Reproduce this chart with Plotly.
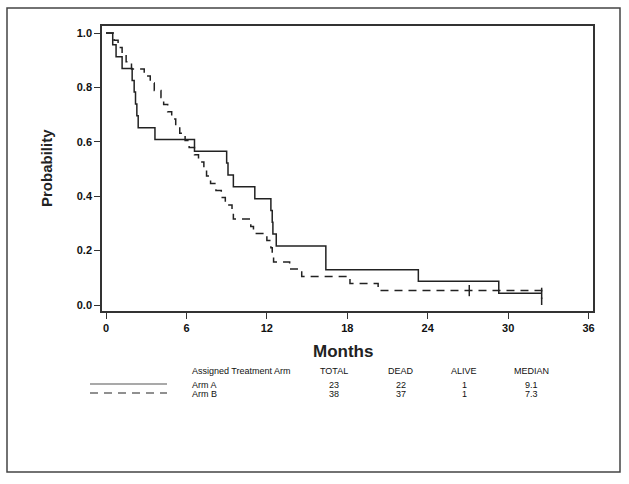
import plotly.graph_objects as go

# ---- data ----
arm_a_time = [0, 0.5, 0.75, 1.2, 1.95, 2.1, 2.2, 2.3, 2.4, 3.65, 6.6, 9.0, 9.1, 9.5,
              11.1, 12.3, 12.4, 12.45, 12.7, 16.4, 23.3, 29.3, 32.5]
arm_a_surv = [1.0, 0.957, 0.913, 0.870, 0.826, 0.783, 0.739, 0.696, 0.652, 0.609, 0.565,
              0.522, 0.478, 0.435, 0.391, 0.348, 0.304, 0.261, 0.217, 0.130, 0.087,
              0.043, 0.043]
arm_a_censor_time = [32.5]
arm_a_censor_surv = [0.043]

arm_b_time = [0, 0.6, 0.9, 1.2, 1.5, 1.9, 2.85, 3.3, 3.6, 4.1, 4.3, 4.6, 4.9, 5.2, 5.5,
              5.9, 6.2, 6.6, 6.9, 7.3, 7.5, 7.8, 8.2, 8.6, 8.9, 9.4, 9.5, 10.8, 11.0,
              12.0, 12.3, 12.4, 12.5, 13.7, 14.6, 18.2, 20.3, 32.5]
arm_b_surv = [1.0, 0.974, 0.947, 0.921, 0.895, 0.868, 0.842, 0.816, 0.789, 0.763, 0.737,
              0.711, 0.684, 0.658, 0.632, 0.605, 0.579, 0.553, 0.526, 0.500, 0.474,
              0.447, 0.421, 0.395, 0.368, 0.342, 0.316, 0.289, 0.263, 0.237, 0.211,
              0.184, 0.158, 0.132, 0.105, 0.079, 0.053, 0.0]
arm_b_censor_time = [27.1]
arm_b_censor_surv = [0.053]

x_ticks = [0, 6, 12, 18, 24, 30, 36]
y_ticks = [0.0, 0.2, 0.4, 0.6, 0.8, 1.0]

table_header = ["Assigned Treatment Arm", "TOTAL", "DEAD", "ALIVE", "MEDIAN"]
table_arms = ["Arm A", "Arm B"]
table_total = [23, 38]
table_dead = [22, 37]
table_alive = [1, 1]
table_median = ["9.1", "7.3"]

# ---- layout geometry (pixels) ----
W, H = 629, 484
L, R, T, B = 102, 593, 26, 311
PW, PH = R - L, B - T


def px(x):
    return (x - L) / PW


def py(y):
    return (B - y) / PH


INK = "#222222"
FONT = "Arial, Liberation Sans, sans-serif"

fig = go.Figure()
fig.add_trace(go.Scatter(x=arm_a_time, y=arm_a_surv, mode="lines", line_shape="hv",
                         line=dict(color=INK, width=1.5), showlegend=False, hoverinfo="skip"))
fig.add_trace(go.Scatter(x=arm_b_time, y=arm_b_surv, mode="lines", line_shape="hv",
                         line=dict(color=INK, width=1.5, dash="8px,6px"), showlegend=False,
                         hoverinfo="skip"))
fig.add_trace(go.Scatter(x=arm_a_censor_time, y=arm_a_censor_surv, mode="markers",
                         marker=dict(symbol="line-ns", size=8, line=dict(color=INK, width=1.5)),
                         showlegend=False, hoverinfo="skip"))
fig.add_trace(go.Scatter(x=arm_b_censor_time, y=arm_b_censor_surv, mode="markers",
                         marker=dict(symbol="line-ns", size=8, line=dict(color=INK, width=1.5)),
                         showlegend=False, hoverinfo="skip"))

axis_common = dict(showline=True, mirror=True, linecolor="#333333", linewidth=1.5,
                   ticks="outside", ticklen=6, tickwidth=1.2, tickcolor="#333333",
                   showgrid=False, zeroline=False,
                   tickfont=dict(family=FONT, size=11, color="#111111", weight="bold"))

fig.update_xaxes(range=[-0.3, 36.33], tickvals=x_ticks, **axis_common)
fig.update_yaxes(range=[-0.022, 1.026], tickvals=y_ticks, tickformat=".1f", **axis_common)

annotations = [
    dict(text="<b>Months</b>", x=px(343), y=py(351), font=dict(family=FONT, size=17, color="#222")),
    dict(text="<b>Probability</b>", x=px(46), y=py(168), textangle=-90,
         font=dict(family=FONT, size=15, color="#222")),
]
small = dict(family=FONT, size=9, color="#111")
header_x = [190, 334, 401, 464, 531]
row_y = [385, 394]
annotations.append(dict(text=table_header[0], x=px(header_x[0]), y=py(371), xanchor="left",
                        font=small))
for i in range(1, 5):
    annotations.append(dict(text=table_header[i], x=px(header_x[i]), y=py(371), font=small))
for r in range(2):
    vals = [table_arms[r], str(table_total[r]), str(table_dead[r]), str(table_alive[r]),
            table_median[r]]
    annotations.append(dict(text=vals[0], x=px(header_x[0]), y=py(row_y[r]), xanchor="left",
                            font=small))
    for i in range(1, 5):
        annotations.append(dict(text=vals[i], x=px(header_x[i]), y=py(row_y[r]), font=small))

for a in annotations:
    a.update(xref="paper", yref="paper", showarrow=False)
    a.setdefault("xanchor", "center")
    a.setdefault("yanchor", "middle")

shapes = [
    dict(type="rect", xref="paper", yref="paper", x0=px(7), x1=px(620), y0=py(472), y1=py(8),
         line=dict(color="#444", width=1.5), layer="below"),
    dict(type="line", xref="paper", yref="paper", x0=px(90), x1=px(167), y0=py(384), y1=py(384),
         line=dict(color="#555", width=1.2)),
    dict(type="line", xref="paper", yref="paper", x0=px(90), x1=px(167), y0=py(393), y1=py(393),
         line=dict(color=INK, width=1.2, dash="8px,6px")),
]

fig.update_layout(width=W, height=H, margin=dict(l=L, r=W - R, t=T, b=H - B),
                  paper_bgcolor="white", plot_bgcolor="white",
                  annotations=annotations, shapes=shapes, showlegend=False)

fig.write_html("out.html", config={"displayModeBar": False},
               post_script="document.body.style.margin='0';document.body.style.overflow='hidden';")
